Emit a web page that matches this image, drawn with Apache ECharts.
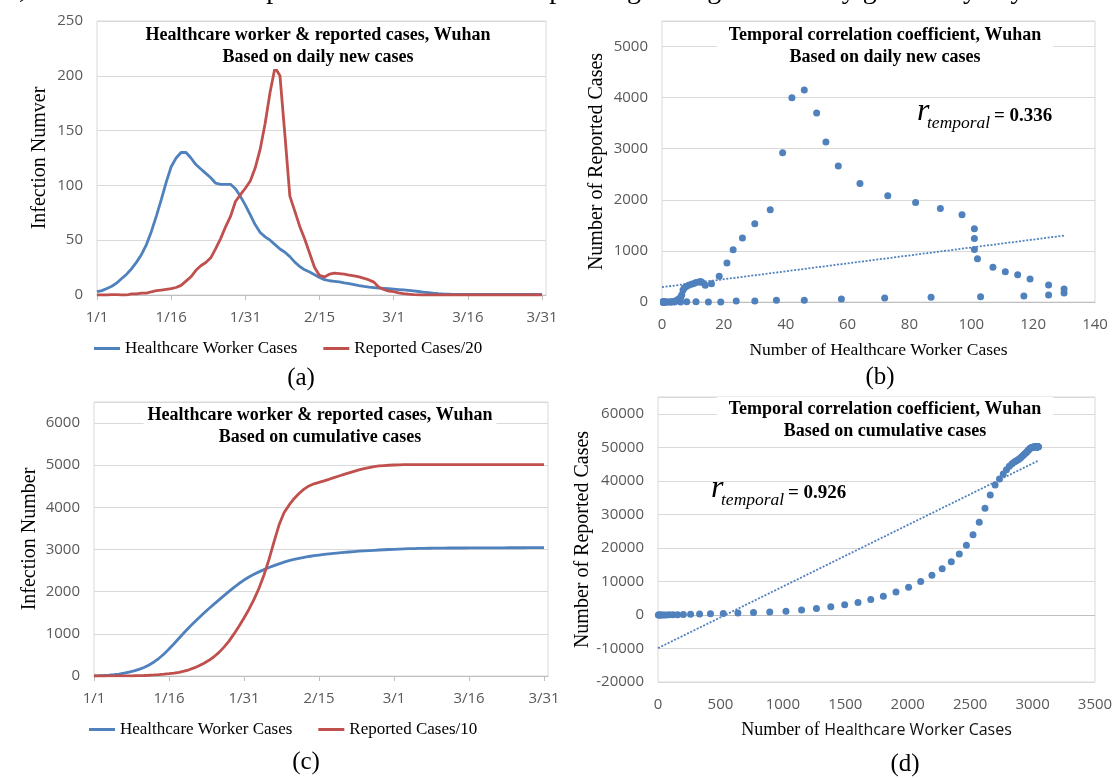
<!DOCTYPE html>
<html>
<head>
<meta charset="utf-8">
<script src="https://cdn.jsdelivr.net/npm/echarts@6/dist/echarts.min.js"></script>
<style>
  html, body { margin: 0; padding: 0; background: #fff; }
  #chart { width: 1115px; height: 778px; }
</style>
</head>
<body>
<div id="chart"></div>
<script>
// Day index 0 = 1 January; labelled every 15 days
const dayTicks = [0, 15, 30, 45, 60, 75, 90];
const dateLabels = ['1/1', '1/16', '1/31', '2/15', '3/1', '3/16', '3/31'];

// Daily new healthcare worker cases, Wuhan
const hcwDaily = [
  3, 4, 6, 8, 11, 15, 19, 24, 30, 37,
  46, 58, 72, 87, 103, 117, 125, 130, 130, 125,
  119, 115, 111, 107, 102, 101, 101, 101, 97, 90,
  82, 73, 64, 57, 53, 50, 46, 42, 39, 35,
  30, 26, 23, 21, 18.5, 16, 14, 13, 12.5, 12,
  11, 10.3, 9.5, 8.6, 7.8, 7.2, 6.8, 6.4, 6.1, 5.8,
  5.4, 5, 4.6, 4.2, 3.8, 3.2, 2.6, 2.1, 1.6, 1.2,
  0.9, 0.7, 0.5, 0.5, 0.5, 0.5, 0.5, 0.5, 0.5, 0.5,
  0.5, 0.5, 0.5, 0.5, 0.5, 0.5, 0.5, 0.5, 0.5, 0.5,
  0.5
];

// Daily new reported cases, Wuhan
const reportedDaily = [
  0, 0, 0, 7, 7, 0, 0, 20, 20, 33,
  33, 59, 78, 91, 104, 117, 137, 176, 254, 332,
  450, 534, 593, 678, 847, 1029, 1244, 1433, 1707, 1830,
  1948, 2080, 2320, 2660, 3130, 3700, 4150, 4000, 2920, 1805,
  1531, 1251, 1023, 762, 502, 358, 330, 380, 400, 390,
  380, 364, 348, 330, 305, 275, 235, 140, 100, 70,
  60, 40, 25, 15, 8, 3, 0, 0, 0, 0,
  0, 0, 0, 0, 0, 0, 0, 0, 0, 0,
  0, 0, 0, 0, 0, 0, 0, 0, 0, 0,
  0
];

// Cumulative healthcare worker cases
const hcwCumulative = [
  3, 7, 13, 21, 32, 47, 66, 90, 120, 157,
  203, 261, 333, 420, 523, 640, 765, 895, 1025, 1150,
  1269, 1384, 1495, 1602, 1704, 1805, 1906, 2007, 2104, 2194,
  2276, 2349, 2413, 2470, 2523, 2573, 2619, 2661, 2700, 2735,
  2765, 2791, 2814, 2835, 2854, 2870, 2884, 2897, 2909, 2921,
  2932, 2942, 2952, 2960, 2968, 2975, 2982, 2989, 2995, 3001,
  3006, 3011, 3016, 3020, 3024, 3027, 3029, 3031, 3033, 3034,
  3035, 3036, 3036, 3037, 3037, 3038, 3038, 3039, 3039, 3040,
  3040, 3041, 3041, 3042, 3042, 3043, 3043, 3044, 3044, 3045,
  3045
];

// Cumulative reported cases
const reportedCumulative = [
  0, 0, 0, 7, 14, 14, 14, 34, 54, 87,
  120, 179, 257, 348, 452, 569, 706, 882, 1136, 1468,
  1918, 2452, 3045, 3723, 4570, 5599, 6843, 8276, 9983, 11813,
  13761, 15841, 18161, 20821, 23951, 27651, 31801, 35801, 38721, 40526,
  42057, 43308, 44331, 45093, 45595, 45953, 46283, 46663, 47063, 47453,
  47833, 48197, 48545, 48875, 49180, 49455, 49690, 49830, 49930, 50000,
  50060, 50100, 50125, 50140, 50148, 50151, 50151, 50151, 50151, 50151,
  50151, 50151, 50151, 50151, 50151, 50151, 50151, 50151, 50151, 50151,
  50151, 50151, 50151, 50151, 50151, 50151, 50151, 50151, 50151, 50151,
  50151
];

// Linear trend lines (end points) and correlation coefficients
const trendDaily = [[0, 290], [130, 1300]];
const trendCumulative = [[0, -9900], [3045, 46000]];
const rDaily = '0.336';
const rCumulative = '0.926';

// Axis tick values
const ticksDailyY = [0, 50, 100, 150, 200, 250];
const ticksScatterDailyY = [0, 1000, 2000, 3000, 4000, 5000];
const ticksCumulativeY = [0, 1000, 2000, 3000, 4000, 5000, 6000];
const ticksScatterCumulativeY = [-20000, -10000, 0, 10000, 20000, 30000, 40000, 50000, 60000];

const BLUE = '#4F81BD';
const RED = '#C0504D';
const GRID_LINE = '#d9d9d9';
const AXIS_LINE = '#bfbfbf';
const SERIF = '"Liberation Serif", "Times New Roman", serif';
const SANS = '"Open Sans", "Liberation Sans", sans-serif';

const tickLabel = { fontFamily: SANS, fontSize: 15, color: '#595959' };

function dateAxis(gridIndex) {
  return {
    type: 'value', gridIndex, min: 0, max: 90.8,
    axisLine: { show: true, lineStyle: { color: AXIS_LINE, width: 1 } },
    axisTick: { show: true, customValues: dayTicks, length: 5, lineStyle: { color: AXIS_LINE } },
    axisLabel: Object.assign({}, tickLabel, {
      customValues: dayTicks, margin: 15,
      formatter: v => dateLabels[dayTicks.indexOf(v)]
    }),
    splitLine: { show: false }
  };
}

function valueYAxis(gridIndex, min, max, interval, labels, name, nameGap, splitColors) {
  return {
    type: 'value', gridIndex, min, max, interval,
    axisLine: { show: false }, axisTick: { show: false },
    axisLabel: Object.assign({}, tickLabel, { customValues: labels, margin: 14, formatter: v => String(v) }),
    splitLine: { show: true, lineStyle: { color: splitColors || GRID_LINE, width: 1 } },
    name, nameLocation: 'middle', nameGap,
    nameTextStyle: { fontFamily: SERIF, fontSize: 20, color: '#000' }
  };
}

function gridBox(left, top, width, height) {
  return { left, top, width, height, show: true, borderColor: GRID_LINE, borderWidth: 1,
           backgroundColor: 'transparent', outerBoundsMode: 'none' };
}

function text(x, y, str, font, extra) {
  return {
    type: 'text', x, y, z: 5,
    style: Object.assign({ text: str, font, fill: '#000', align: 'center', verticalAlign: 'middle' }, extra || {})
  };
}

function titleBox(x, y, str, padH) {
  return text(x, y, str, 'bold 18px ' + SERIF,
    { lineHeight: 22, backgroundColor: '#fff', padding: [1, padH] });
}

function rLabel(x, y, value) {
  return [
    text(x, y - 4, 'r', 'italic 32px ' + SERIF, { align: 'left' }),
    text(x + 10, y + 7.5, 'temporal', 'italic 17.5px ' + SERIF, { align: 'left' }),
    text(x + 77, y, '= ' + value, 'bold 19px ' + SERIF, { align: 'left' })
  ];
}

const cumulativeSplit = ['#d9d9d9', '#d9d9d9', AXIS_LINE, '#d9d9d9', '#d9d9d9',
                         '#d9d9d9', '#d9d9d9', '#d9d9d9', '#d9d9d9', '#d9d9d9'];

const option = {
  backgroundColor: '#fff',
  animation: false,
  grid: [
    gridBox(97, 21, 449, 274),
    gridBox(662, 21, 433, 281),
    gridBox(94, 402, 454, 274),
    gridBox(658, 397, 437, 285)
  ],
  xAxis: [
    dateAxis(0),
    {
      type: 'value', gridIndex: 1, min: 0, max: 140, interval: 20,
      axisLine: { show: true, lineStyle: { color: AXIS_LINE } }, axisTick: { show: false },
      axisLabel: Object.assign({}, tickLabel, { margin: 15, formatter: v => String(v) }),
      splitLine: { show: false },
      name: 'Number of Healthcare Worker Cases', nameLocation: 'middle', nameGap: 39,
      nameTextStyle: { fontFamily: SERIF, fontSize: 17.5, color: '#000' }
    },
    dateAxis(2),
    {
      type: 'value', gridIndex: 3, min: 0, max: 3500, interval: 500,
      axisLine: { show: false }, axisTick: { show: false },
      axisLabel: Object.assign({}, tickLabel, { margin: 15, formatter: v => String(v) }),
      splitLine: { show: false },
      name: '{a|Number of }{b|Healthcare Worker Cases}', nameLocation: 'middle', nameGap: 39,
      nameTextStyle: {
        rich: {
          a: { fontFamily: SERIF, fontSize: 18, color: '#000', verticalAlign: 'middle' },
          b: { fontFamily: SANS, fontSize: 16, color: '#111', verticalAlign: 'middle' }
        }
      }
    }
  ],
  yAxis: [
    valueYAxis(0, 0, 250, 50, ticksDailyY, 'Infection Numver', 47),
    valueYAxis(1, 0, 5500, 1000, ticksScatterDailyY, 'Number of Reported Cases', 55),
    valueYAxis(2, 0, 6500, 1000, ticksCumulativeY, 'Infection Number', 54),
    valueYAxis(3, -20000, 65000, 10000, ticksScatterCumulativeY, 'Number of Reported Cases', 63, cumulativeSplit)
  ],
  legend: [
    {
      left: 94, top: 340, padding: 0, itemGap: 26, itemWidth: 26, itemHeight: 3, icon: 'rect',
      selectedMode: false,
      data: ['Healthcare Worker Cases', 'Reported Cases/20'],
      textStyle: { fontFamily: SERIF, fontSize: 17, color: '#000' }
    },
    {
      left: 89, top: 721, padding: 0, itemGap: 26, itemWidth: 26, itemHeight: 3, icon: 'rect',
      selectedMode: false,
      data: ['Healthcare Worker Cases', 'Reported Cases/10'],
      textStyle: { fontFamily: SERIF, fontSize: 17, color: '#000' }
    }
  ],
  series: [
    {
      name: 'Healthcare Worker Cases', type: 'line', xAxisIndex: 0, yAxisIndex: 0,
      data: hcwDaily.map((v, i) => [i, v]), showSymbol: false,
      lineStyle: { color: BLUE, width: 2.8 }, itemStyle: { color: BLUE }
    },
    {
      name: 'Reported Cases/20', type: 'line', xAxisIndex: 0, yAxisIndex: 0,
      data: reportedDaily.map((v, i) => [i, v / 20]), showSymbol: false,
      lineStyle: { color: RED, width: 2.8 }, itemStyle: { color: RED }
    },
    {
      name: 'Daily cases', type: 'scatter', xAxisIndex: 1, yAxisIndex: 1,
      data: hcwDaily.map((v, i) => [v, reportedDaily[i]]),
      symbolSize: 7, itemStyle: { color: BLUE, opacity: 1 }
    },
    {
      name: 'Daily trend', type: 'line', xAxisIndex: 1, yAxisIndex: 1,
      data: trendDaily, showSymbol: false,
      lineStyle: { color: BLUE, width: 1.8, type: [2, 1.6] }
    },
    {
      name: 'Healthcare Worker Cases', type: 'line', xAxisIndex: 2, yAxisIndex: 2,
      data: hcwCumulative.map((v, i) => [i, v]), showSymbol: false,
      lineStyle: { color: BLUE, width: 2.8 }, itemStyle: { color: BLUE }
    },
    {
      name: 'Reported Cases/10', type: 'line', xAxisIndex: 2, yAxisIndex: 2,
      data: reportedCumulative.map((v, i) => [i, v / 10]), showSymbol: false,
      lineStyle: { color: RED, width: 2.8 }, itemStyle: { color: RED }
    },
    {
      name: 'Cumulative cases', type: 'scatter', xAxisIndex: 3, yAxisIndex: 3,
      data: hcwCumulative.map((v, i) => [v, reportedCumulative[i]]),
      symbolSize: 7, itemStyle: { color: BLUE, opacity: 1 }
    },
    {
      name: 'Cumulative trend', type: 'line', xAxisIndex: 3, yAxisIndex: 3,
      data: trendCumulative, showSymbol: false,
      lineStyle: { color: BLUE, width: 1.8, type: [2, 1.6] }
    }
  ],
  graphic: {
    elements: [
      // running text of the page, cut by the top edge
      text(-40, 5, 'cases, and the number of reported cases in the corresponding timing of the daily growth by day',
           '28px ' + SERIF, { align: 'left', verticalAlign: 'bottom' }),
      titleBox(318, 46, 'Healthcare worker & reported cases, Wuhan\nBased on daily new cases', 4),
      titleBox(885, 46, 'Temporal correlation coefficient, Wuhan\nBased on daily new cases', 12),
      titleBox(320, 426, 'Healthcare worker & reported cases, Wuhan\nBased on cumulative cases', 4),
      titleBox(885, 420, 'Temporal correlation coefficient, Wuhan\nBased on cumulative cases', 12),
      ...rLabel(917, 116, rDaily),
      ...rLabel(711, 493, rCumulative),
      text(301, 378, '(a)', '25px ' + SERIF),
      text(880, 377, '(b)', '25px ' + SERIF),
      text(306, 762, '(c)', '25px ' + SERIF),
      text(905, 764, '(d)', '25px ' + SERIF)
    ]
  }
};

const chart = echarts.init(document.getElementById('chart'), null, { renderer: 'canvas' });
chart.setOption(option);
</script>
</body>
</html>
